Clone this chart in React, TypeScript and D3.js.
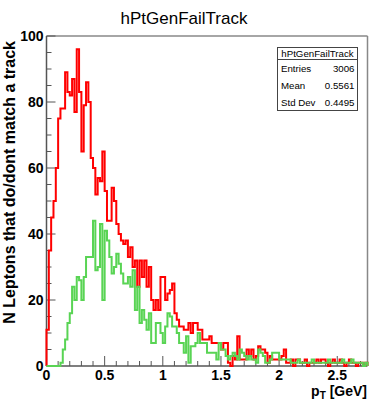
import React from "react";
import * as d3 from "d3";

// Histogram binning: 138 bins of width 0.02 GeV covering 0 – 2.76 GeV
const binWidth = 0.02;
const xMax = 2.76;

// Leptons failing the track match (red)
const failCounts = [
  11, 35, 45, 50, 60, 75, 78, 78, 89, 83,
  82, 87, 77, 96, 83, 65, 79, 86, 80, 63,
  60, 52, 57, 56, 65, 53, 44, 44, 54, 50,
  43, 40, 38, 37, 38, 33, 36, 30, 32, 24,
  32, 27, 32, 24, 30, 20, 17, 20, 17, 27,
  27, 20, 22, 23, 25, 16, 14, 12, 12, 11,
  11, 13, 10, 13, 13, 11, 11, 8, 8, 8,
  9, 7, 7, 7, 7, 5, 7, 7, 1, 0,
  3, 2, 9, 2, 2, 2, 5, 3, 5, 2,
  3, 6, 5, 5, 4, 1, 3, 2, 2, 2,
  2, 3, 5, 1, 1, 2, 0, 2, 2, 1,
  1, 2, 0, 1, 1, 1, 2, 1, 2, 2,
  1, 0, 1, 2, 1, 1, 2, 1, 0, 1,
  2, 1, 1, 0, 1, 1, 0, 1,
];

// Leptons with a matching track (green)
const matchCounts = [
  0, 0, 0, 0, 0, 0, 1, 5, 8, 13,
  16, 24, 20, 27, 26, 20, 27, 33, 33, 33,
  44, 29, 30, 43, 20, 41, 38, 33, 28, 30,
  34, 31, 28, 25, 25, 27, 24, 29, 17, 24,
  13, 17, 14, 11, 16, 7, 7, 13, 13, 10,
  7, 12, 16, 15, 12, 12, 10, 7, 7, 4,
  9, 1, 6, 6, 7, 10, 7, 7, 7, 4,
  4, 4, 4, 2, 7, 5, 5, 3, 2, 3,
  4, 3, 2, 5, 4, 3, 2, 3, 2, 2,
  1, 5, 4, 3, 1, 1, 2, 4, 4, 4,
  2, 2, 2, 2, 2, 1, 1, 1, 2, 1,
  1, 1, 1, 1, 2, 1, 1, 1, 1, 1,
  1, 2, 1, 1, 1, 1, 1, 2, 1, 1,
  1, 2, 1, 1, 1, 1, 0, 1,
];

const xTickLabels = ["0", "0.5", "1", "1.5", "2", "2.5"];
const yTickLabels = ["0", "20", "40", "60", "80", "100"];

const statsTitle = "hPtGenFailTrack";
const statsRows: [string, string][] = [
  ["Entries", "3006"],
  ["Mean", "0.5561"],
  ["Std Dev", "0.4495"],
];

const W = 370;
const H = 401;
const FONT = "'Liberation Sans', Arial, Helvetica, sans-serif";

const x = d3.scaleLinear().domain([0, xMax]).range([46.5, 367.5]);
const y = d3.scaleLinear().domain([0, 100]).range([366, 36]);

function histPath(counts: number[]): string {
  const pts: [number, number][] = [[0, 0]];
  counts.forEach((v, i) => pts.push([i * binWidth, v]));
  pts.push([counts.length * binWidth, 0]);
  const line = d3
    .line<[number, number]>()
    .x((d) => x(d[0]))
    .y((d) => y(d[1]))
    .curve(d3.curveStepAfter);
  return line(pts) || "";
}

export default function App() {
  const [x0, x1] = x.range();
  const [y0, y1] = y.range();

  const xMinor = d3.range(0, xMax + 1e-9, 0.1);
  const xMajor = xTickLabels.map((t) => +t);
  const yMinor = d3.range(0, 100 + 1e-9, 5);
  const yMajor = yTickLabels.map((t) => +t);

  const bx = 277.5, by = 47.5, bw = 80, bh = 63;
  const rowH = (bh - 12) / statsRows.length;

  return (
    <svg
      width={W}
      height={H}
      style={{ position: "absolute", left: 0, top: 0, background: "#fff" }}
      fontFamily={FONT}
    >
      <rect x={0} y={0} width={W} height={H} fill="#fff" />

      {/* title */}
      <text x={184} y={24} textAnchor="middle" fontSize={17} fill="#000">
        hPtGenFailTrack
      </text>

      {/* frame */}
      <line x1={x0} x2={x1} y1={y1} y2={y1} stroke="#888" strokeWidth={1.5} />
      <line x1={x1} x2={x1} y1={y1} y2={y0} stroke="#888" strokeWidth={1.5} />
      <line x1={x0} x2={x0} y1={y1} y2={y0} stroke="#555" strokeWidth={1.5} />
      <line x1={x0} x2={x1} y1={y0} y2={y0} stroke="#000" strokeWidth={1.2} />

      {/* y ticks */}
      {yMinor.map((v) => {
        const major = yMajor.some((m) => Math.abs(m - v) < 1e-6);
        return (
          <line
            key={"ym" + v}
            x1={x0}
            x2={x0 + (major ? 9 : 5)}
            y1={y(v)}
            y2={y(v)}
            stroke="#555"
            strokeWidth={1}
          />
        );
      })}
      {yTickLabels.map((t) => (
        <text
          key={"yl" + t}
          x={x0 - 3}
          y={y(+t) + 5}
          textAnchor="end"
          fontSize={14}
          fontWeight="bold"
          fill="#000"
        >
          {t}
        </text>
      ))}

      {/* x ticks */}
      {xMinor.map((v) => {
        const major = xMajor.some((m) => Math.abs(m - v) < 1e-6);
        return (
          <line
            key={"xm" + v.toFixed(2)}
            x1={x(v)}
            x2={x(v)}
            y1={y0}
            y2={y0 - (major ? 10 : 5)}
            stroke="#555"
            strokeWidth={1}
          />
        );
      })}
      {xTickLabels.map((t) => (
        <text
          key={"xl" + t}
          x={x(+t)}
          y={380}
          textAnchor="middle"
          fontSize={14}
          fontWeight="bold"
          fill="#000"
        >
          {t}
        </text>
      ))}

      {/* axis titles */}
      <text
        x={367}
        y={396}
        textAnchor="end"
        fontSize={14}
        fontWeight="bold"
        fill="#000"
      >
        p
        <tspan fontSize={10} dy={3}>
          T
        </tspan>
        <tspan dy={-3}> [GeV]</tspan>
      </text>
      <text
        transform={`translate(15, 41) rotate(-90)`}
        textAnchor="end"
        fontSize={16}
        fontWeight="bold"
        fill="#000"
      >
        N Leptons that do/dont match a track
      </text>

      {/* histograms */}
      <path
        d={histPath(failCounts)}
        fill="none"
        stroke="#ff0000"
        strokeWidth={2}
        strokeLinejoin="miter"
      />
      <path
        d={histPath(matchCounts)}
        fill="none"
        stroke="#59d454"
        strokeWidth={2}
        strokeLinejoin="miter"
      />

      {/* statistics box */}
      <g fontSize={9.7} fill="#000">
        <rect x={bx} y={by} width={bw} height={bh} fill="#fff" stroke="#444" strokeWidth={1} />
        <line x1={bx} x2={bx + bw} y1={by + 12} y2={by + 12} stroke="#444" strokeWidth={1} />
        <text x={bx + bw / 2} y={by + 9.5} textAnchor="middle">
          {statsTitle}
        </text>
        {statsRows.map(([k, v], i) => (
          <g key={k}>
            <text x={bx + 3.5} y={by + 12 + rowH * (i + 0.5) + 3.5}>
              {k}
            </text>
            <text x={bx + bw - 3} y={by + 12 + rowH * (i + 0.5) + 3.5} textAnchor="end">
              {v}
            </text>
          </g>
        ))}
      </g>
    </svg>
  );
}
